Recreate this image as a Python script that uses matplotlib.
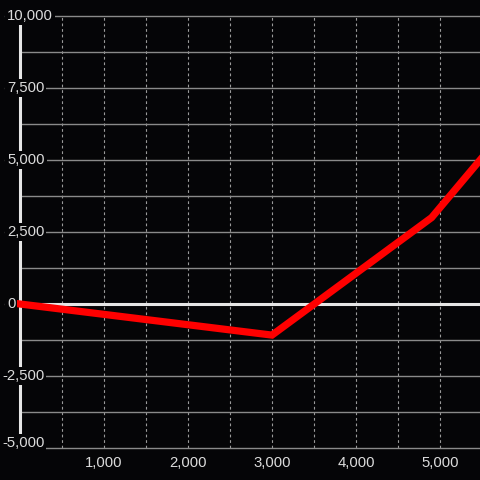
import numpy as np
import matplotlib
matplotlib.use('Agg')
import matplotlib.pyplot as plt

## data ##
x_vals = [0, 3000, 4900, 5500]
y_vals = [0, -1080, 3000, 5080]

y_major = [10000, 7500, 5000, 2500, 0, -2500, -5000]
y_labels = ['10,000', '7,500', '5,000', '2,500', '0', '-2,500', '-5,000']
y_minor = [8750, 6250, 3750, 1250, -1250, -3750]
x_ticks = [1000, 2000, 3000, 4000, 5000]
x_labels = ['1,000', '2,000', '3,000', '4,000', '5,000']
x_grid = np.arange(500, 5500, 500)

bg = '#050507'
plt.rcParams['font.family'] = ['Liberation Sans', 'DejaVu Sans']

fig = plt.figure(figsize=(4.8, 4.8), dpi=100, facecolor=bg)
ax = fig.add_axes([0, 32/480, 1, 432/480], facecolor=bg)
ax.set_xlim(-238, 5476)
ax.set_ylim(-5000, 10000)

# grid
for gx in x_grid:
    ax.axvline(gx, color='#9a9a9a', lw=0.8, ls=(0, (2.5, 2.5)), zorder=1)
for gy in y_major:
    ax.plot([-178, 5476], [gy, gy], color='#8a8a8a', lw=1.0, zorder=1, clip_on=False)
for gy in y_minor:
    ax.plot([0, 5476], [gy, gy], color='#8a8a8a', lw=1.0, zorder=1)

# zero line and y axis
ax.plot([0, 5476], [0, 0], color='#e6e6e6', lw=2.2, zorder=2)
ax.plot([0, 0], [-5000, 10000], color='#e6e6e6', lw=2.2, zorder=2, clip_on=False)

# the series
ax.plot(x_vals, y_vals, color='#ff0000', lw=5.2, zorder=3, solid_joinstyle='miter')

# y labels over the axis (minus sign hangs to the left, last one kept inside)
for v, lab in zip(y_major, y_labels):
    x0 = -214 if lab.startswith('-') else -155
    if v == y_major[-1]:
        yv, va = v + 40, 'baseline'
    else:
        yv, va = v, 'center'
    ax.text(x0, yv, lab, color='#dcdcdc', fontsize=10.7, ha='left', va=va,
            zorder=5, clip_on=False,
            bbox=dict(facecolor=bg, edgecolor='none', pad=1.5))

ax.set_xticks(x_ticks)
ax.set_xticklabels(x_labels)
ax.set_yticks([])
ax.tick_params(axis='x', length=0, pad=6, labelcolor='#dcdcdc', labelsize=10.7)
for s in ax.spines.values():
    s.set_visible(False)

plt.savefig('out.png', dpi=100, facecolor=bg)
